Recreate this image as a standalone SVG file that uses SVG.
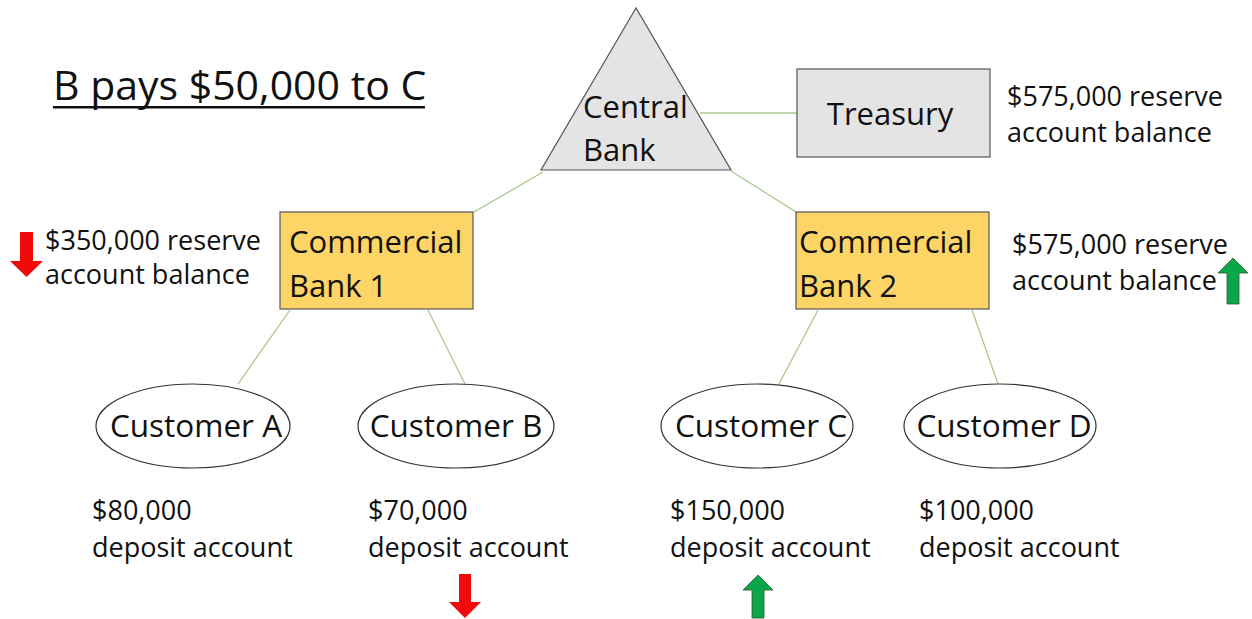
<svg xmlns="http://www.w3.org/2000/svg" width="1252" height="619" viewBox="0 0 1252 619">
<style>
text{font-family:"Open Sans","Noto Sans","Liberation Sans",sans-serif;fill:#111}
.n{font-size:31px}
.c{font-size:31.5px}
.s{font-size:27px}
.ln{stroke:#a8c88c;stroke-width:1.3;fill:none}
.bank{fill:#fdd566;stroke:#555;stroke-width:1.2}
.gray{fill:#e4e4e4;stroke:#555;stroke-width:1.2}
.ell{fill:#fff;stroke:#333;stroke-width:1.2}
.red{fill:#f00a0a}
.grn{fill:#0ca64a;stroke:#2a5a2a;stroke-width:0.8}
</style>
<rect width="1252" height="619" fill="#fff"/>
<g id="title">
<text x="53" y="100" style="font-size:41px">B pays $50,000 to C</text>
<rect x="53" y="106" width="372" height="2.5" fill="#111"/>
</g>
<g id="connectors">
<line class="ln" x1="700" y1="113" x2="797" y2="113"/>
<line class="ln" x1="543" y1="172" x2="474" y2="212"/>
<line class="ln" x1="731" y1="171" x2="796" y2="212"/>
<line class="ln" x1="290" y1="310" x2="238" y2="384"/>
<line class="ln" x1="428" y1="310" x2="465" y2="384"/>
<line class="ln" x1="818" y1="310" x2="779" y2="384"/>
<line class="ln" x1="972" y1="310" x2="998" y2="384"/>
</g>
<g id="central-bank">
<polygon class="gray" points="636,8 541,170 731,170"/>
<text class="n" x="583" y="118">Central</text>
<text class="n" x="583" y="161">Bank</text>
</g>
<g id="treasury">
<rect class="gray" x="797" y="69" width="193" height="88"/>
<text class="n" x="890" y="125" text-anchor="middle">Treasury</text>
</g>
<g id="treasury-balance">
<text class="s" x="1007" y="106">$575,000 reserve</text>
<text class="s" x="1007" y="142">account balance</text>
</g>
<g id="bank1">
<rect class="bank" x="280" y="212" width="193" height="97"/>
<text class="n" x="289" y="253">Commercial</text>
<text class="n" x="289" y="297">Bank 1</text>
</g>
<g id="bank1-balance">
<polygon class="red" points="20,232 33,232 33,261 43,261 26.5,277 10,261 20,261"/>
<text class="s" x="45" y="250">$350,000 reserve</text>
<text class="s" x="45" y="284">account balance</text>
</g>
<g id="bank2">
<rect class="bank" x="796" y="212" width="193" height="97"/>
<text class="n" x="799" y="253">Commercial</text>
<text class="n" x="799" y="297">Bank 2</text>
</g>
<g id="bank2-balance">
<text class="s" x="1012" y="254">$575,000 reserve</text>
<text class="s" x="1012" y="290">account balance</text>
<polygon class="grn" points="1227,304 1239,304 1239,273 1248,273 1233,258 1218,273 1227,273"/>
</g>
<g id="customer-a">
<ellipse class="ell" cx="193" cy="426" rx="97" ry="42"/>
<text class="c" x="196" y="437" text-anchor="middle">Customer A</text>
<text class="s" x="92" y="520">$80,000</text>
<text class="s" x="92" y="557">deposit account</text>
</g>
<g id="customer-b">
<ellipse class="ell" cx="456" cy="426" rx="98" ry="42"/>
<text class="c" x="456" y="437" text-anchor="middle">Customer B</text>
<text class="s" x="368" y="520">$70,000</text>
<text class="s" x="368" y="557">deposit account</text>
<polygon class="red" points="459,574 471,574 471,602 481,602 465,618 449,602 459,602"/>
</g>
<g id="customer-c">
<ellipse class="ell" cx="757" cy="426" rx="96" ry="42"/>
<text class="c" x="761" y="437" text-anchor="middle">Customer C</text>
<text class="s" x="670" y="520">$150,000</text>
<text class="s" x="670" y="557">deposit account</text>
<polygon class="grn" points="752,618 764,618 764,590 773,590 758,575 743,590 752,590"/>
</g>
<g id="customer-d">
<ellipse class="ell" cx="1000" cy="426" rx="96" ry="42"/>
<text class="c" x="1004" y="437" text-anchor="middle">Customer D</text>
<text class="s" x="919" y="520">$100,000</text>
<text class="s" x="919" y="557">deposit account</text>
</g>
</svg>
